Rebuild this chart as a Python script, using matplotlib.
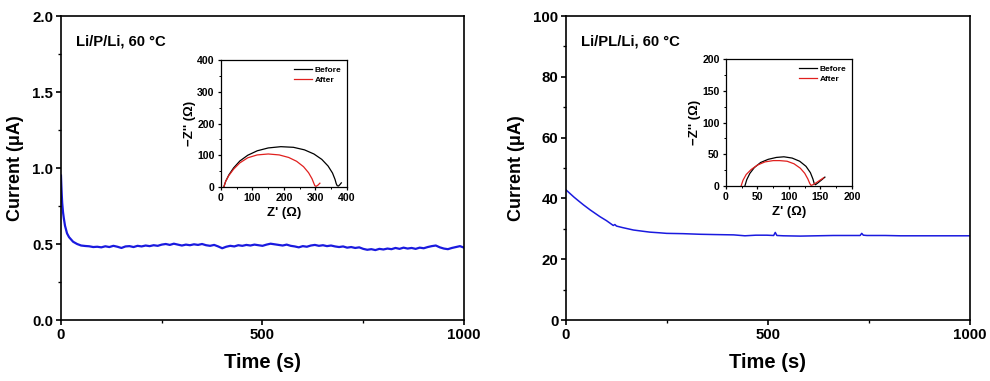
import numpy as np
import matplotlib
matplotlib.use('Agg')
import matplotlib.pyplot as plt
from matplotlib.ticker import MultipleLocator

plt.rcParams['font.family'] = ['Liberation Sans', 'DejaVu Sans']
plt.rcParams['font.weight'] = 'bold'
plt.rcParams['axes.labelweight'] = 'bold'

# ---- left panel: Li/P/Li current vs time
t_p = [0, 1, 2, 3, 5, 7, 10, 15, 20, 25, 30, 40, 50, 60, 70, 80, 90,
       100, 110, 120, 130, 140, 150, 160, 170, 180, 190,
       200, 210, 220, 230, 240, 250, 260, 270, 280, 290,
       300, 310, 320, 330, 340, 350, 360, 370, 380, 390,
       400, 410, 420, 430, 440, 450, 460, 470, 480, 490,
       500, 510, 520, 530, 540, 550, 560, 570, 580, 590,
       600, 610, 620, 630, 640, 650, 660, 670, 680, 690,
       700, 710, 720, 730, 740, 750, 760, 770, 780, 790,
       800, 810, 820, 830, 840, 850, 860, 870, 880, 890,
       900, 910, 920, 930, 940, 950, 960, 970, 980, 990, 1000]
i_p = [0.95, 0.88, 0.82, 0.77, 0.71, 0.67, 0.62, 0.57, 0.545, 0.53, 0.515, 0.50, 0.49, 0.487, 0.485, 0.48, 0.482,
       0.478, 0.485, 0.480, 0.488, 0.482, 0.474, 0.484, 0.486, 0.480, 0.488,
       0.484, 0.490, 0.486, 0.492, 0.488, 0.496, 0.500, 0.494, 0.502, 0.496,
       0.490, 0.496, 0.492, 0.498, 0.494, 0.500, 0.492, 0.488, 0.494, 0.484,
       0.472, 0.482, 0.488, 0.484, 0.492, 0.488, 0.494, 0.490, 0.496, 0.492,
       0.488, 0.496, 0.502, 0.498, 0.494, 0.490, 0.496, 0.488, 0.484, 0.478,
       0.486, 0.482, 0.490, 0.494, 0.488, 0.492, 0.486, 0.490, 0.484, 0.480,
       0.484, 0.476, 0.480, 0.474, 0.478, 0.468, 0.462, 0.466, 0.460, 0.468,
       0.464, 0.470, 0.466, 0.474, 0.468, 0.476, 0.470, 0.474, 0.468, 0.476,
       0.472, 0.480, 0.486, 0.490, 0.478, 0.470, 0.466, 0.474, 0.480, 0.486, 0.476]

# ---- right panel: Li/PL/Li current vs time
t_pl = [0, 10, 20, 30, 43, 60, 84, 100, 117, 121, 125, 140, 167, 190, 208, 230, 249,
        290, 332, 370, 415, 443, 470, 497, 514, 518, 522, 538, 580, 620, 662,
        700, 728, 732, 736, 745, 790, 828, 870, 910, 950, 1000]
i_pl = [42.8, 41.6, 40.4, 39.3, 37.9, 36.2, 34.0, 32.7, 31.1, 31.4, 30.9, 30.4, 29.6, 29.2, 28.9, 28.7, 28.5,
        28.4, 28.2, 28.1, 28.0, 27.7, 27.9, 27.9, 27.8, 28.8, 27.8, 27.7, 27.6, 27.7, 27.8,
        27.8, 27.8, 28.5, 27.9, 27.8, 27.8, 27.7, 27.7, 27.7, 27.7, 27.7]

# ---- Nyquist insets (Z', -Z'')
zr_p_before = [9, 15, 25, 40, 60, 85, 115, 150, 190, 230, 265, 295, 320, 340, 354, 362, 366, 369, 373, 377, 382]
zi_p_before = [0, 18, 38, 60, 82, 100, 114, 123, 127, 125, 117, 104, 87, 66, 44, 24, 10, 4, 3, 7, 13]
zr_p_after = [9, 15, 25, 40, 60, 85, 115, 150, 185, 215, 240, 262, 278, 289, 295, 298, 302, 308, 314]
zi_p_after = [0, 18, 36, 56, 76, 92, 101, 104, 101, 93, 81, 64, 45, 26, 11, 4, 2, 6, 12]

zr_pl_before = [30, 33, 38, 45, 55, 67, 80, 92, 105, 117, 127, 134, 138, 140, 142, 146, 151, 157]
zi_pl_before = [0, 10, 20, 29, 37, 42, 45, 46, 44, 39, 31, 21, 11, 4, 2, 5, 9, 14]
zr_pl_after = [24, 27, 32, 40, 50, 62, 75, 85, 97, 108, 118, 125, 130, 133, 135, 138, 143, 149, 155]
zi_pl_after = [0, 9, 18, 26, 33, 38, 40, 40, 39, 35, 28, 20, 11, 4, 1, 2, 5, 9, 13]

fig = plt.figure(figsize=(9.9, 3.81), dpi=100)


def style_axes(ax, lw, major, minor, lsize):
    for s in ax.spines.values():
        s.set_linewidth(lw)
    ax.tick_params(which='major', direction='out', length=major, width=lw, labelsize=lsize, pad=2)
    ax.tick_params(which='minor', direction='out', length=minor, width=lw * 0.8)
    for lab in ax.get_xticklabels() + ax.get_yticklabels():
        lab.set_fontweight('bold')


def main_panel(rect, t, cur, ymax, ymaj, label, lw):
    ax = fig.add_axes(rect)
    ax.plot(t, cur, color='#1a1adf', lw=lw)
    ax.set_xlim(0, 1000)
    ax.set_ylim(0, ymax)
    ax.xaxis.set_major_locator(MultipleLocator(500))
    ax.xaxis.set_minor_locator(MultipleLocator(250))
    ax.yaxis.set_major_locator(MultipleLocator(ymaj))
    ax.yaxis.set_minor_locator(MultipleLocator(ymaj / 2))
    style_axes(ax, 1.2, 3.5, 2, 10.8)
    ax.set_xlabel('Time (s)', fontsize=14.5, fontweight='bold', labelpad=8)
    ax.set_ylabel('Current (μA)', fontsize=13, fontweight='bold', labelpad=6)
    ax.text(0.037, 0.915, label, transform=ax.transAxes, fontsize=10.7,
            fontweight='bold', va='center', ha='left')
    return ax


def inset(rect, zr_b, zi_b, zr_a, zi_a, lim, major):
    ax = fig.add_axes(rect)
    ax.plot(zr_b, zi_b, color='black', lw=0.9, label='Before')
    ax.plot(zr_a, zi_a, color='#e0201e', lw=0.9, label='After')
    ax.set_xlim(0, lim)
    ax.set_ylim(0, lim)
    ax.xaxis.set_major_locator(MultipleLocator(major))
    ax.xaxis.set_minor_locator(MultipleLocator(major / 2))
    ax.yaxis.set_major_locator(MultipleLocator(major))
    ax.yaxis.set_minor_locator(MultipleLocator(major / 2))
    style_axes(ax, 0.9, 2.5, 1.3, 7.6)
    ax.set_xlabel("Z' (Ω)", fontsize=9.5, fontweight='bold', labelpad=3)
    ax.set_ylabel("−Z'' (Ω)", fontsize=9.5, fontweight='bold', labelpad=1)
    ax.legend(loc='upper right', frameon=False, handlelength=2.2,
              handletextpad=0.3, labelspacing=0.25, borderaxespad=0.3,
              prop={'weight': 'bold', 'size': 6})
    return ax


main_panel([0.0616, 0.1601, 0.4071, 0.7979], t_p, i_p, 2.0, 0.5, 'Li/P/Li, 60 °C', 1.6)
main_panel([0.5717, 0.1601, 0.4081, 0.7979], t_pl, i_pl, 100, 20, 'Li/PL/Li, 60 °C', 1.1)

inset([0.2232, 0.5092, 0.1273, 0.3333], zr_p_before, zi_p_before, zr_p_after, zi_p_after, 400, 100)
inset([0.7333, 0.5118, 0.1273, 0.3333], zr_pl_before, zi_pl_before, zr_pl_after, zi_pl_after, 200, 50)

fig.savefig('out.png', dpi=100)
